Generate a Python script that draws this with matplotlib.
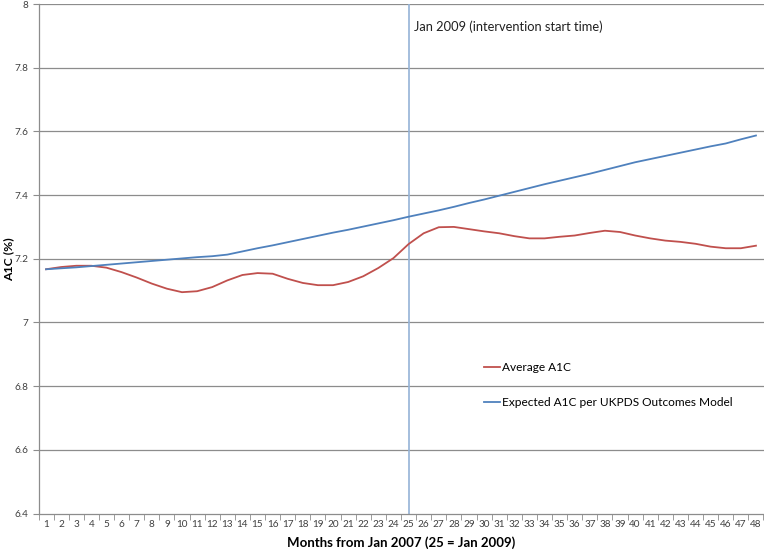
import numpy as np
import matplotlib.pyplot as plt
from matplotlib.ticker import FixedLocator, FuncFormatter

plt.rcParams['font.family'] = ['Lato', 'DejaVu Sans']

months = list(range(1, 49))

average_a1c = [
    7.167, 7.174, 7.178, 7.178, 7.172, 7.158, 7.141, 7.122, 7.106, 7.095,
    7.098, 7.111, 7.132, 7.149, 7.155, 7.153, 7.137, 7.124, 7.117, 7.117,
    7.127, 7.145, 7.171, 7.202, 7.246, 7.280, 7.299, 7.300, 7.293, 7.286,
    7.280, 7.271, 7.264, 7.264, 7.269, 7.273, 7.281, 7.288, 7.284, 7.273,
    7.264, 7.257, 7.253, 7.247, 7.238, 7.233, 7.233, 7.241,
]

expected_a1c = [
    7.167, 7.170, 7.173, 7.177, 7.181, 7.185, 7.189, 7.193, 7.197, 7.201,
    7.205, 7.208, 7.213, 7.223, 7.233, 7.242, 7.252, 7.262, 7.272, 7.282,
    7.291, 7.301, 7.311, 7.321, 7.332, 7.342, 7.352, 7.363, 7.375, 7.386,
    7.398, 7.410, 7.422, 7.434, 7.445, 7.456, 7.467, 7.479, 7.491, 7.503,
    7.513, 7.523, 7.533, 7.543, 7.553, 7.562, 7.575, 7.587,
]

y_ticks = [6.4, 6.6, 6.8, 7.0, 7.2, 7.4, 7.6, 7.8, 8.0]
intervention_month = 25

fig = plt.figure(figsize=(7.64, 5.52), dpi=100)
ax = fig.add_axes([38.5 / 764, 38.5 / 552, 725 / 764, 509.5 / 552])

grid_color = '#8c8c8c'
for y in y_ticks[1:]:
    ax.axhline(y, color=grid_color, lw=0.9, zorder=1)

ax.axvline(intervention_month, color='#95b3d7', lw=1.2, zorder=2)

ax.plot(months, average_a1c, color='#c0504d', lw=1.3, label='Average A1C', zorder=3)
ax.plot(months, expected_a1c, color='#4f81bd', lw=1.3,
        label='Expected A1C per UKPDS Outcomes Model', zorder=3)

ax.set_xlim(0.5, 48.5)
ax.set_ylim(6.4, 8.0)

ax.set_yticks(y_ticks)
ax.yaxis.set_major_formatter(FuncFormatter(lambda v, p: ('%g' % round(v, 1))))
ax.set_xticks(months)
ax.xaxis.set_minor_locator(FixedLocator(np.arange(0.5, 49, 1)))
ax.tick_params(axis='x', which='major', length=0, labelsize=7.2, pad=5, labelcolor='#404040')
ax.tick_params(axis='x', which='minor', length=4, color=grid_color, direction='out')
ax.tick_params(axis='y', length=4, color=grid_color, labelsize=7.2, labelcolor='#404040')

for side in ['top', 'right']:
    ax.spines[side].set_visible(False)
for side in ['left', 'bottom']:
    ax.spines[side].set_color(grid_color)
    ax.spines[side].set_linewidth(0.9)

ax.set_ylabel('A1C (%)', fontsize=8.8, fontweight='bold')
ax.yaxis.set_label_coords(-0.033, 0.5)
ax.set_xlabel('Months from Jan 2007 (25 = Jan 2009)', fontsize=9.5, fontweight='bold', labelpad=5)

ax.text(intervention_month + 0.35, 7.93, 'Jan 2009 (intervention start time)',
        fontsize=9.3, color='#202020', va='center', ha='left')

leg = ax.legend(loc='upper left', bbox_to_anchor=(0.6, 0.318), frameon=False,
                fontsize=8.6, handlelength=1.3, handletextpad=0.15, labelspacing=2.0)

fig.savefig('out.png', dpi=100)
